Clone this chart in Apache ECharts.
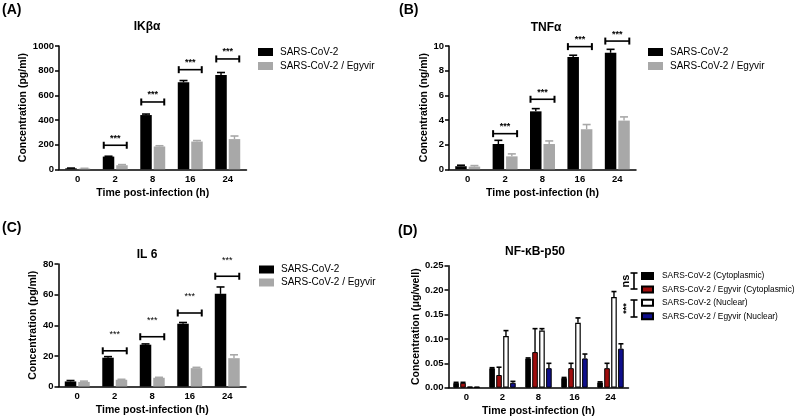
<!DOCTYPE html>
<html>
<head>
<meta charset="utf-8">
<script src="https://cdn.jsdelivr.net/npm/echarts@6/dist/echarts.min.js"></script>
<style>html,body{margin:0;padding:0;background:#fff;}#c{width:800px;height:419px;}</style>
</head>
<body>
<div id="c"></div>
<script>
// ---- data ----
const categories = ['0', '2', '8', '16', '24'];
const seriesNames = ['SARS-CoV-2', 'SARS-CoV-2 / Egyvir'];
const nfNames = ['SARS-CoV-2 (Cytoplasmic)', 'SARS-CoV-2 / Egyvir (Cytoplasmic)', 'SARS-CoV-2 (Nuclear)', 'SARS-CoV-2 / Egyvir (Nuclear)'];

const ikbaInfected = [8, 103, 440, 705, 765];
const ikbaInfectedErr = [2, 3, 8, 15, 20];
const ikbaEgyvir = [6, 33, 185, 225, 245];
const ikbaEgyvirErr = [2, 5, 6, 8, 25];
const ikbaSig = [null, 195, 546, 808, 895];

const tnfInfected = [0.25, 2.05, 4.7, 9.1, 9.45];
const tnfInfectedErr = [0.08, 0.3, 0.22, 0.15, 0.28];
const tnfEgyvir = [0.22, 1.05, 2.05, 3.25, 3.95];
const tnfEgyvirErr = [0.08, 0.2, 0.25, 0.38, 0.3];
const tnfSig = [null, 2.89, 5.68, 9.95, 10.4];

const il6Infected = [3.3, 18.8, 27.3, 41, 60.5];
const il6InfectedErr = [0.6, 0.7, 0.5, 0.8, 4.5];
const il6Egyvir = [3, 4.4, 5.7, 12, 18.5];
const il6EgyvirErr = [0.5, 0.3, 0.3, 0.5, 2.2];
const il6Sig = [null, 23.3, 32.5, 48, 72];

const nfCytoInfected = [0.010, 0.040, 0.060, 0.020, 0.011];
const nfCytoInfectedErr = [0.001, 0.001, 0.001, 0.001, 0.001];
const nfCytoEgyvir = [0.010, 0.026, 0.073, 0.040, 0.040];
const nfCytoEgyvirErr = [0.001, 0.016, 0.048, 0.010, 0.010];
const nfNucInfected = [0.001, 0.106, 0.117, 0.133, 0.186];
const nfNucInfectedErr = [0, 0.011, 0.004, 0.010, 0.011];
const nfNucEgyvir = [0.001, 0.010, 0.040, 0.060, 0.080];
const nfNucEgyvirErr = [0, 0.003, 0.010, 0.009, 0.010];

const yTicksA = [0, 1000, 200];
const yTicksB = [0, 10, 2];
const yTicksC = [0, 80, 20];
const yTicksD = [0, 0.25, 0.05];

// ---- helpers ----
const FONT = 'Arial, "Liberation Sans", Helvetica, sans-serif';
const BLACK = '#000000';
const GRAY = '#a8a8a8';
const RED = '#a00d0d';
const BLUE = '#0f0f8c';

function errData(vals, errs) { return vals.map((v, i) => [i, v, errs[i]]); }
function sigData(levels) { return levels.map((v, i) => v == null ? null : [i, v]).filter(d => d); }

function errSeries(gi, vals, errs, offset, capHalf, color) {
  return {
    type: 'custom', xAxisIndex: gi, yAxisIndex: gi, z: 5, clip: false, silent: true,
    data: errData(vals, errs),
    encode: { x: 0, y: 1 },
    renderItem: function (params, api) {
      const i = api.value(0), v = api.value(1), e = api.value(2);
      const b = api.coord([i, v]);
      const t = api.coord([i, v + e]);
      const x = b[0] + offset;
      return {
        type: 'group', children: [
          { type: 'line', shape: { x1: x, y1: b[1], x2: x, y2: t[1] }, style: { stroke: color, lineWidth: 1.4 } },
          { type: 'line', shape: { x1: x - capHalf, y1: t[1], x2: x + capHalf, y2: t[1] }, style: { stroke: color, lineWidth: 1.6 } }
        ]
      };
    }
  };
}

function sigSeries(gi, levels, halfW, starGap, starBold) {
  return {
    type: 'custom', xAxisIndex: gi, yAxisIndex: gi, z: 6, clip: false, silent: true,
    data: sigData(levels),
    encode: { x: 0, y: 1 },
    renderItem: function (params, api) {
      const p = api.coord([api.value(0), api.value(1)]);
      const x1 = p[0] - halfW, x2 = p[0] + halfW, y = p[1];
      return {
        type: 'group', children: [
          { type: 'line', shape: { x1: x1, y1: y, x2: x2, y2: y }, style: { stroke: '#000', lineWidth: 1.6 } },
          { type: 'line', shape: { x1: x1, y1: y - 3.5, x2: x1, y2: y + 3.5 }, style: { stroke: '#000', lineWidth: 2 } },
          { type: 'line', shape: { x1: x2, y1: y - 3.5, x2: x2, y2: y + 3.5 }, style: { stroke: '#000', lineWidth: 2 } },
          { type: 'text', style: { text: '***', x: p[0], y: y - starGap, textAlign: 'center', textVerticalAlign: 'middle', font: (starBold ? 'bold ' : '') + '9px ' + FONT, fill: '#000' } }
        ]
      };
    }
  };
}

function xAxisDef(gi) {
  return {
    type: 'category', gridIndex: gi, data: categories,
    name: 'Time post-infection (h)', nameLocation: 'middle', nameGap: 18,
    nameTextStyle: { fontFamily: FONT, fontWeight: 'bold', fontSize: 10.5, color: '#000' },
    axisLine: { lineStyle: { color: '#000', width: 1.5 } },
    axisTick: { alignWithLabel: true, length: 4, lineStyle: { color: '#000', width: 1.5 } },
    axisLabel: { fontFamily: FONT, fontWeight: 'bold', fontSize: 9.5, color: '#000', margin: 5 },
    splitLine: { show: false }
  };
}
function yAxisDef(gi, ticks, name, digits, gap) {
  return {
    type: 'value', gridIndex: gi, min: ticks[0], max: ticks[1], interval: ticks[2],
    name: name, nameLocation: 'middle', nameGap: gap,
    nameTextStyle: { fontFamily: FONT, fontWeight: 'bold', fontSize: 10.5, color: '#000' },
    axisLine: { show: true, lineStyle: { color: '#000', width: 1.5 } },
    axisTick: { show: true, length: 4, lineStyle: { color: '#000', width: 1.5 } },
    axisLabel: { fontFamily: FONT, fontWeight: 'bold', fontSize: 9.5, color: '#000', margin: 5,
      formatter: v => digits ? v.toFixed(digits) : String(v) },
    splitLine: { show: false }
  };
}
function barSeries(gi, name, vals, color, w, gap, extra) {
  return Object.assign({
    type: 'bar', name: name, xAxisIndex: gi, yAxisIndex: gi, data: vals,
    barWidth: w, barGap: gap, itemStyle: { color: color }, silent: true
  }, extra || {});
}

// two-bar layout
const W2 = 11.5, G2 = '17%', OFF2 = (11.5 + 11.5 * 0.17) / 2;
// four-bar layout
const W4 = 5.6, G4 = '24%', S4 = 5.6 * 1.24;

const series = [
  barSeries(0, seriesNames[0], ikbaInfected, BLACK, W2, G2),
  barSeries(0, seriesNames[1], ikbaEgyvir, GRAY, W2, G2),
  errSeries(0, ikbaInfected, ikbaInfectedErr, -OFF2, 4, BLACK),
  errSeries(0, ikbaEgyvir, ikbaEgyvirErr, OFF2, 4, GRAY),
  sigSeries(0, ikbaSig, 11.5, 7, true),

  barSeries(1, seriesNames[0], tnfInfected, BLACK, W2, G2),
  barSeries(1, seriesNames[1], tnfEgyvir, GRAY, W2, G2),
  errSeries(1, tnfInfected, tnfInfectedErr, -OFF2, 4, BLACK),
  errSeries(1, tnfEgyvir, tnfEgyvirErr, OFF2, 4, GRAY),
  sigSeries(1, tnfSig, 12, 7, true),

  barSeries(2, seriesNames[0], il6Infected, BLACK, W2, G2),
  barSeries(2, seriesNames[1], il6Egyvir, GRAY, W2, G2),
  errSeries(2, il6Infected, il6InfectedErr, -OFF2, 4, BLACK),
  errSeries(2, il6Egyvir, il6EgyvirErr, OFF2, 4, GRAY),
  sigSeries(2, il6Sig, 12, 16, false),

  barSeries(3, nfNames[0], nfCytoInfected, BLACK, W4, G4, { itemStyle: { color: BLACK, borderColor: '#000', borderWidth: 1 } }),
  barSeries(3, nfNames[1], nfCytoEgyvir, RED, W4, G4, { itemStyle: { color: RED, borderColor: '#000', borderWidth: 1 } }),
  barSeries(3, nfNames[2], nfNucInfected, '#fff', W4, G4, { itemStyle: { color: '#fff', borderColor: '#000', borderWidth: 1.2 } }),
  barSeries(3, nfNames[3], nfNucEgyvir, BLUE, W4, G4, { itemStyle: { color: BLUE, borderColor: '#000', borderWidth: 1 } }),
  errSeries(3, nfCytoInfected, nfCytoInfectedErr, -1.5 * S4, 2.5, BLACK),
  errSeries(3, nfCytoEgyvir, nfCytoEgyvirErr, -0.5 * S4, 2.5, BLACK),
  errSeries(3, nfNucInfected, nfNucInfectedErr, 0.5 * S4, 2.5, BLACK),
  errSeries(3, nfNucEgyvir, nfNucEgyvirErr, 1.5 * S4, 2.5, BLACK)
];

const legendText = { fontFamily: FONT, fontSize: 10, color: '#000', padding: [0, 0, 0, 2] };
const option = {
  animation: false,
  backgroundColor: '#ffffff',
  grid: [
    { left: 59, top: 46, width: 187.5, height: 123.3 },
    { left: 449, top: 46, width: 187, height: 123.3 },
    { left: 58.5, top: 264, width: 187.5, height: 122.5 },
    { left: 448.5, top: 265.7, width: 180, height: 122 }
  ],
  xAxis: [xAxisDef(0), xAxisDef(1), xAxisDef(2), xAxisDef(3)],
  yAxis: [
    yAxisDef(0, yTicksA, 'Concentration (pg/ml)', 0, 27),
    yAxisDef(1, yTicksB, 'Concentration (ng/ml)', 0, 18),
    yAxisDef(2, yTicksC, 'Concentration (pg/ml)', 0, 11),
    yAxisDef(3, yTicksD, 'Concentration (μg/well)', 2, 24)
  ],
  legend: [
    { orient: 'vertical', left: 258, top: 47, padding: 0, itemWidth: 15, itemHeight: 8, itemGap: 4, icon: 'rect',
      data: seriesNames, textStyle: legendText, selectedMode: false },
    { orient: 'vertical', left: 648, top: 47, padding: 0, itemWidth: 15, itemHeight: 8, itemGap: 4, icon: 'rect',
      data: seriesNames, textStyle: legendText, selectedMode: false },
    { orient: 'vertical', left: 259, top: 264.5, padding: 0, itemWidth: 15, itemHeight: 8, itemGap: 3, icon: 'rect',
      data: seriesNames, textStyle: legendText, selectedMode: false },
    { orient: 'vertical', left: 641, top: 272, padding: 0, itemWidth: 11, itemHeight: 6, itemGap: 5.4, icon: 'rect',
      data: nfNames, textStyle: { fontFamily: FONT, fontSize: 8.4, color: '#000', padding: [0, 0, 0, 4] }, selectedMode: false }
  ],
  graphic: [
    { type: 'text', left: 2, top: 3, style: { text: '(A)', font: 'bold 14px ' + FONT, fill: '#000' } },
    { type: 'text', left: 399, top: 3, style: { text: '(B)', font: 'bold 14px ' + FONT, fill: '#000' } },
    { type: 'text', left: 2, top: 221, style: { text: '(C)', font: 'bold 14px ' + FONT, fill: '#000' } },
    { type: 'text', left: 398, top: 224, style: { text: '(D)', font: 'bold 14px ' + FONT, fill: '#000' } },
    { type: 'text', x: 147, y: 27, style: { text: 'IKβα', font: 'bold 12px ' + FONT, fill: '#000', textAlign: 'center', textVerticalAlign: 'middle' } },
    { type: 'text', x: 546, y: 28, style: { text: 'TNFα', font: 'bold 12px ' + FONT, fill: '#000', textAlign: 'center', textVerticalAlign: 'middle' } },
    { type: 'text', x: 147, y: 255, style: { text: 'IL 6', font: 'bold 12px ' + FONT, fill: '#000', textAlign: 'center', textVerticalAlign: 'middle' } },
    { type: 'text', x: 535, y: 252, style: { text: 'NF-κB-p50', font: 'bold 12px ' + FONT, fill: '#000', textAlign: 'center', textVerticalAlign: 'middle' } },
    // legend significance markers (panel D)
    { type: 'line', shape: { x1: 634, y1: 273, x2: 634, y2: 289 }, style: { stroke: '#000', lineWidth: 1.6 } },
    { type: 'line', shape: { x1: 630.5, y1: 273, x2: 637.5, y2: 273 }, style: { stroke: '#000', lineWidth: 1.6 } },
    { type: 'line', shape: { x1: 630.5, y1: 289, x2: 637.5, y2: 289 }, style: { stroke: '#000', lineWidth: 1.6 } },
    { type: 'text', x: 625.5, y: 281, rotation: Math.PI / 2, style: { text: 'ns', font: 'bold 11px ' + FONT, fill: '#000', textAlign: 'center', textVerticalAlign: 'middle' } },
    { type: 'line', shape: { x1: 634, y1: 300, x2: 634, y2: 317 }, style: { stroke: '#000', lineWidth: 1.6 } },
    { type: 'line', shape: { x1: 630.5, y1: 300, x2: 637.5, y2: 300 }, style: { stroke: '#000', lineWidth: 1.6 } },
    { type: 'line', shape: { x1: 630.5, y1: 317, x2: 637.5, y2: 317 }, style: { stroke: '#000', lineWidth: 1.6 } },
    { type: 'text', x: 627, y: 308.5, rotation: Math.PI / 2, style: { text: '***', font: 'bold 9px ' + FONT, fill: '#000', textAlign: 'center', textVerticalAlign: 'middle' } }
  ],
  series: series
};

const chart = echarts.init(document.getElementById('c'), null, { renderer: 'canvas', width: 800, height: 419 });
chart.setOption(option);
</script>
</body>
</html>
